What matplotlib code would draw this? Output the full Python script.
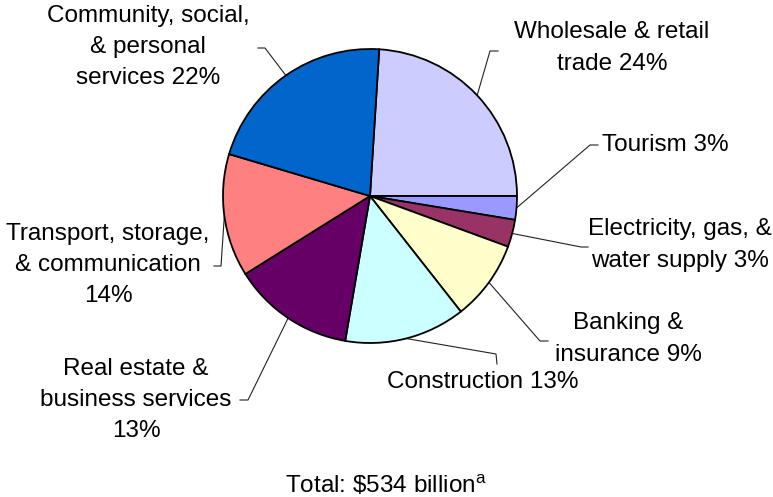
import numpy as np
import matplotlib
matplotlib.use("Agg")
import matplotlib.pyplot as plt

plt.rcParams['font.family'] = ['Liberation Sans', 'DejaVu Sans']

# sector shares (percent), clockwise from the top
sectors = ["Wholesale & retail trade", "Tourism", "Electricity, gas, & water supply",
           "Banking & insurance", "Construction", "Real estate & business services",
           "Transport, storage, & communication", "Community, social, & personal services"]
shares = [24.0, 2.6, 3.0, 8.8, 13.3, 13.4, 13.5, 21.4]
labels = ["Wholesale & retail\ntrade 24%", "Tourism 3%", "Electricity, gas, &\nwater supply 3%",
          "Banking &\ninsurance 9%", "Construction 13%", "Real estate &\nbusiness services\n13%",
          "Transport, storage,\n& communication\n14%", "Community, social,\n& personal\nservices 22%"]
colors = ["#CCCCFF", "#9999FF", "#993366", "#FFFFCC", "#CCFFFF", "#660066", "#FF8080", "#0066CC"]
total_text = r"Total: \$534 billion$^\mathregular{a}$"

# layout in pixels: pie centre and radius, label positions, leader elbows
W, H = 773, 497
cx, cy, R = 370, 196, 147
label_pos = [(612, 48, "center"), (602, 145, "left"), (680, 245, "center"),
             (628, 339, "center"), (483, 382, "center"), (136, 400, "center"),
             (108, 265, "center"), (148, 47, "center")]
elbows = [[(490, 51), (498, 51)], [(590, 145), (598, 145)], [(581, 247), (588, 247)],
          [(540, 341), (548, 341)], [(496, 354), (497, 364)], [(248, 400), (240, 400)],
          [(221, 266), (214, 266)], [(265, 48), (258, 48)]]


def to_data(px, py):
    return (px - cx) / R, (cy - py) / R


fig = plt.figure(figsize=(W / 100, H / 100), dpi=100)
ax = fig.add_axes([0, 0, 1, 1])
wedges, _ = ax.pie(shares, colors=colors, startangle=86.4, counterclock=False,
                   radius=1.0, wedgeprops=dict(edgecolor="black", linewidth=1.3))

for w, lab, (lx, ly, ha), el in zip(wedges, labels, label_pos, elbows):
    mid = np.deg2rad((w.theta1 + w.theta2) / 2)
    pts = [(np.cos(mid), np.sin(mid))] + [to_data(*p) for p in el]
    xs, ys = zip(*pts)
    ax.plot(xs, ys, color="#222222", lw=0.8, zorder=0.5)
    tx, ty = to_data(lx, ly)
    ax.text(tx, ty, lab, ha=ha, va="center", multialignment="center",
            fontsize=17.5, linespacing=1.55, color="black")

tx, ty = to_data(386, 486)
ax.text(tx, ty, total_text, ha="center", va="center", fontsize=17.5)

x0, y0 = to_data(0, H)
x1, y1 = to_data(W, 0)
ax.set_xlim(x0, x1)
ax.set_ylim(y0, y1)
ax.set_aspect("auto")
ax.axis("off")

fig.savefig("out.png", dpi=100, facecolor="white")
